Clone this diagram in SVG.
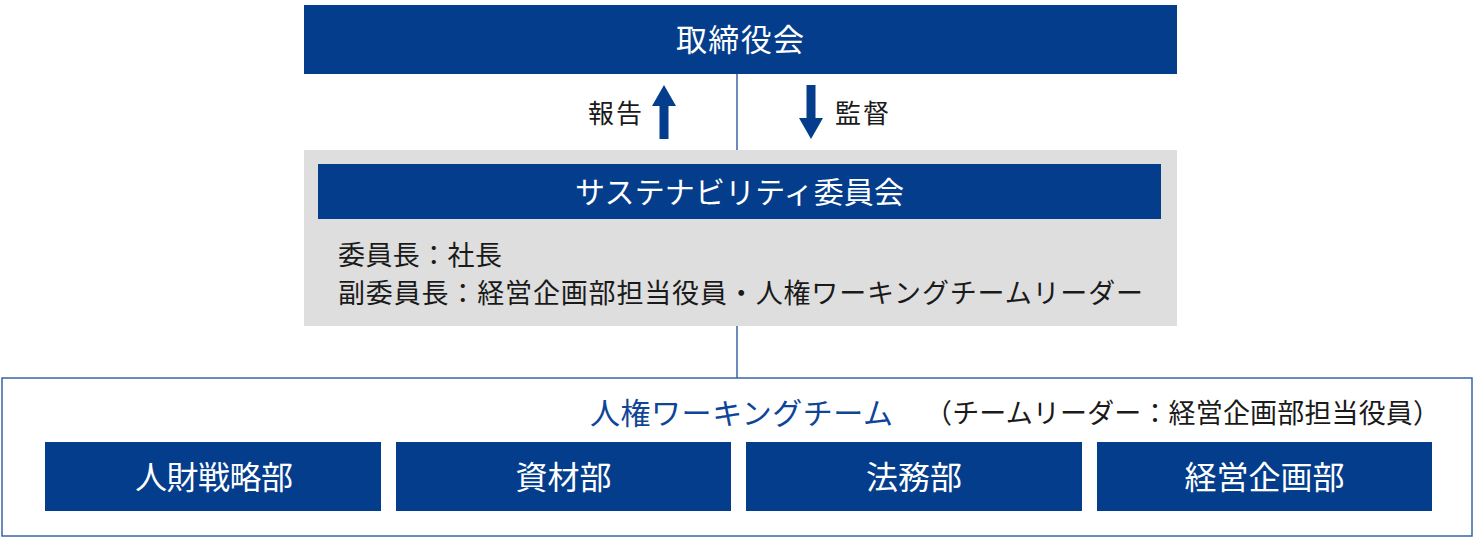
<svg xmlns="http://www.w3.org/2000/svg" width="1474" height="540" viewBox="0 0 1474 540">
<style>
.blue{fill:#033d8b}
.t{font-family:"Noto Sans CJK JP","Noto Sans",sans-serif}
.w{fill:#ffffff}
.k{fill:#1a1a1a}
.ln{stroke:#3a64a6;stroke-width:1.5;fill:none}
</style>
<rect width="1474" height="540" fill="#ffffff"/>
<g id="connectors">
<line class="ln" x1="737" y1="74" x2="737" y2="150"/>
<line class="ln" x1="737" y1="326" x2="737" y2="378"/>
<polygon class="blue" points="664,85 676,106 668.5,106 668.5,139 659.5,139 659.5,106 652,106"/>
<polygon class="blue" points="811,139 823,118 815.5,118 815.5,85 806.5,85 806.5,118 799,118"/>
<text class="t k" x="588" y="123" font-size="26" textLength="54">報告</text>
<text class="t k" x="835" y="123" font-size="26" textLength="54">監督</text>
</g>
<g id="board">
<rect class="blue" x="304" y="5" width="873" height="69"/>
<text class="t w" x="676" y="51" font-size="31" textLength="128">取締役会</text>
</g>
<g id="committee">
<rect x="304" y="150" width="873" height="176" fill="#dedede"/>
<rect class="blue" x="318" y="164" width="843" height="55"/>
<text class="t w" x="575" y="203" font-size="30" textLength="329">サステナビリティ委員会</text>
<text class="t k" x="338" y="264.5" font-size="27" textLength="164">委員長：社長</text>
<text class="t k" x="338" y="302.5" font-size="27" textLength="805">副委員長：経営企画部担当役員・人権ワーキングチームリーダー</text>
</g>
<g id="working-team">
<rect x="2" y="378" width="1470" height="158" fill="none" stroke="#3a64a6" stroke-width="1.5"/>
<text class="t" x="590" y="424" font-size="30" fill="#0f4597" textLength="303">人権ワーキングチーム</text>
<text class="t k" x="925" y="423" font-size="27" textLength="515">（チームリーダー：経営企画部担当役員）</text>
</g>
<g id="dept1">
<rect class="blue" x="45" y="442" width="336" height="69"/>
<text class="t w" x="135" y="489" font-size="32" textLength="158">人財戦略部</text>
</g>
<g id="dept2">
<rect class="blue" x="396" y="442" width="335" height="69"/>
<text class="t w" x="563.5" y="489" font-size="32" text-anchor="middle">資材部</text>
</g>
<g id="dept3">
<rect class="blue" x="746" y="442" width="336" height="69"/>
<text class="t w" x="914" y="489" font-size="32" text-anchor="middle">法務部</text>
</g>
<g id="dept4">
<rect class="blue" x="1097" y="442" width="335" height="69"/>
<text class="t w" x="1264.5" y="489" font-size="32" text-anchor="middle">経営企画部</text>
</g>
</svg>
